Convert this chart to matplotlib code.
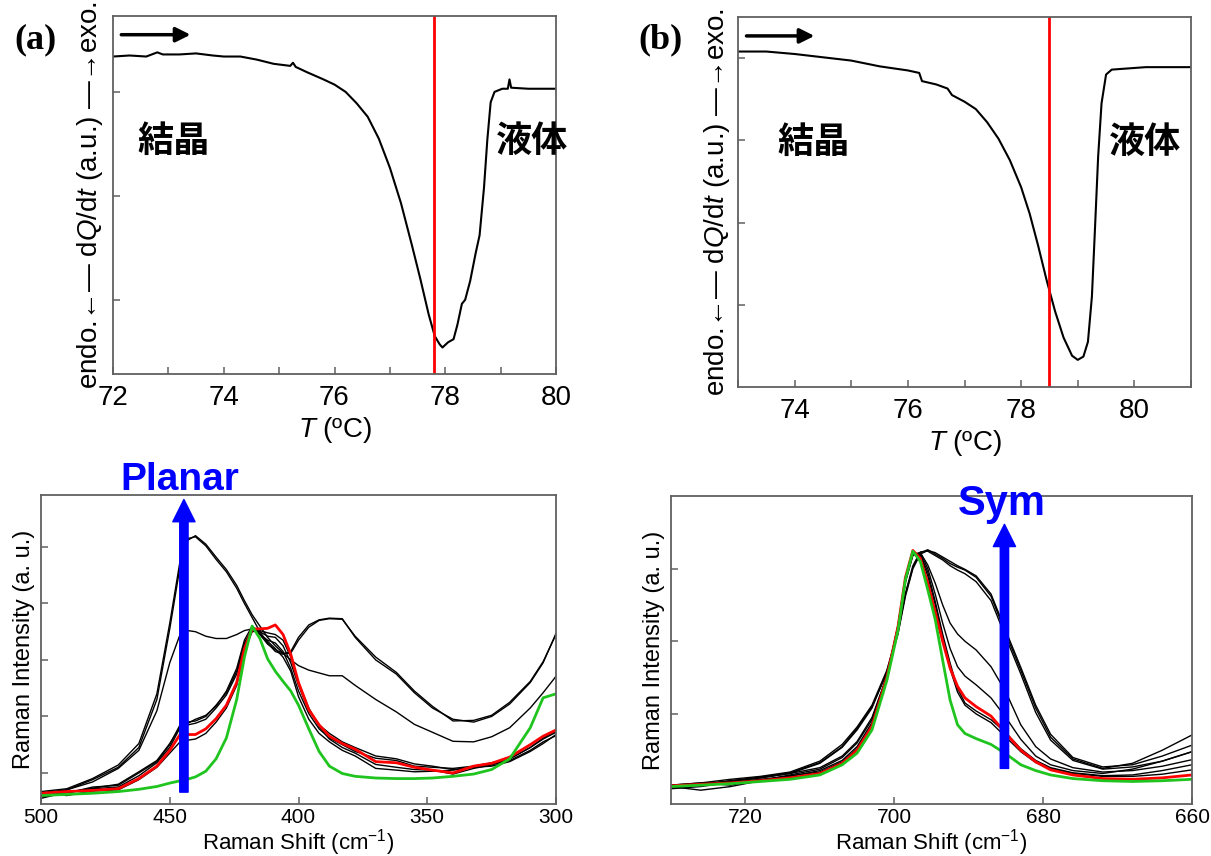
import matplotlib
matplotlib.use("Agg")
import matplotlib.pyplot as plt
from matplotlib.ticker import MultipleLocator, FixedLocator, NullFormatter

plt.rcParams['font.family'] = ['Liberation Sans', 'DejaVu Sans']
plt.rcParams['mathtext.fontset'] = 'custom'
plt.rcParams['mathtext.rm'] = 'Liberation Sans'
plt.rcParams['mathtext.it'] = 'Liberation Sans:italic'

# ---- DSC (a) ----
dsc_a_T = [72.0, 72.3, 72.6, 72.8, 72.9, 73.2, 73.5, 73.8, 74.0, 74.3, 74.6, 74.9, 75.2,
           75.25, 75.3, 75.5, 75.8, 76.0, 76.2, 76.4, 76.6, 76.8, 77.0, 77.2, 77.4, 77.55,
           77.7, 77.81, 77.9, 77.95, 78.05, 78.15, 78.22, 78.3, 78.36, 78.45, 78.55, 78.62,
           78.7, 78.76, 78.82, 78.89, 79.03, 79.13, 79.16, 79.19, 79.5, 80.0]
dsc_a_Q = [3.34, 3.35, 3.34, 3.38, 3.36, 3.36, 3.37, 3.35, 3.34, 3.34, 3.31, 3.27, 3.25,
           3.28, 3.24, 3.19, 3.12, 3.07, 3.00, 2.89, 2.76, 2.55, 2.27, 1.93, 1.52, 1.20,
           0.86, 0.65, 0.57, 0.54, 0.59, 0.62, 0.76, 0.96, 1.00, 1.18, 1.45, 1.62,
           2.08, 2.54, 2.90, 3.00, 3.03, 3.03, 3.12, 3.04, 3.03, 3.03]
melt_a = 77.8

# ---- DSC (b) ----
dsc_b_T = [73.0, 73.5, 74.0, 74.5, 75.0, 75.5, 76.0, 76.2, 76.25, 76.5, 76.7, 76.78, 77.0,
           77.2, 77.4, 77.6, 77.8, 78.0, 78.15, 78.3, 78.45, 78.6, 78.75, 78.9, 79.0, 79.1,
           79.18, 79.25, 79.3, 79.36, 79.42, 79.5, 79.6, 80.2, 81.0]
dsc_b_Q = [4.08, 4.08, 4.05, 4.01, 3.97, 3.90, 3.85, 3.82, 3.72, 3.68, 3.63, 3.55, 3.47,
           3.38, 3.22, 3.02, 2.76, 2.43, 2.11, 1.72, 1.30, 0.92, 0.60, 0.38, 0.33, 0.37,
           0.55, 1.10, 1.86, 2.80, 3.45, 3.80, 3.86, 3.89, 3.89]
melt_b = 78.5

# ---- Raman (c), 500-300 cm-1 ----
xc = [500, 490, 480, 470, 462, 455, 450, 446, 443, 440, 436, 432, 428, 424, 421, 418, 415,
      412, 409, 406, 403, 400, 396, 392, 388, 383, 378, 370, 362, 355, 348, 340, 332, 325,
      318, 310, 305, 300]
c_green = [-0.40, -0.38, -0.36, -0.33, -0.29, -0.24, -0.18, -0.14, -0.11, -0.07, 0.03, 0.25,
           0.62, 1.30, 2.05, 2.60, 2.38, 2.02, 1.80, 1.62, 1.45, 1.20, 0.78, 0.38, 0.12, -0.01,
           -0.06, -0.09, -0.10, -0.10, -0.09, -0.06, -0.02, 0.06, 0.25, 0.80, 1.33, 1.40]
c_red = [-0.36, -0.33, -0.31, -0.28, -0.10, 0.12, 0.40, 0.68, 0.68, 0.68, 0.78, 0.96, 1.20,
         1.60, 2.20, 2.55, 2.55, 2.56, 2.62, 2.45, 2.10, 1.60, 1.12, 0.85, 0.65, 0.52, 0.42,
         0.20, 0.18, 0.10, 0.05, 0.00, 0.12, 0.17, 0.28, 0.50, 0.65, 0.76]
c_black = [
    [-0.42, -0.35, -0.28, -0.25, -0.05, 0.18, 0.45, 0.80, 0.85, 0.88, 0.95, 1.15, 1.38, 1.75,
     2.25, 2.57, 2.45, 2.35, 2.30, 2.15, 1.85, 1.45, 1.05, 0.78, 0.62, 0.50, 0.38, 0.26, 0.22,
     0.12, 0.10, 0.08, 0.12, 0.18, 0.25, 0.45, 0.60, 0.72],
    [-0.38, -0.36, -0.25, -0.22, 0.00, 0.20, 0.50, 0.85, 0.90, 0.92, 1.00, 1.20, 1.42, 1.80,
     2.30, 2.55, 2.50, 2.42, 2.40, 2.25, 1.95, 1.55, 1.10, 0.85, 0.70, 0.55, 0.45, 0.30, 0.25,
     0.16, 0.12, 0.06, 0.10, 0.15, 0.22, 0.40, 0.55, 0.66],
    [-0.35, -0.40, -0.32, -0.30, -0.12, 0.10, 0.35, 0.55, 0.58, 0.60, 0.70, 0.90, 1.15, 1.55,
     2.15, 2.50, 2.52, 2.48, 2.45, 2.35, 2.05, 1.60, 1.15, 0.82, 0.60, 0.45, 0.35, 0.15, 0.10,
     0.06, 0.05, -0.02, 0.08, 0.14, 0.25, 0.45, 0.62, 0.74],
    [-0.45, -0.34, -0.27, -0.20, 0.02, 0.22, 0.52, 0.82, 0.88, 0.95, 1.02, 1.18, 1.45, 1.85,
     2.35, 2.60, 2.47, 2.33, 2.20, 2.05, 1.80, 1.35, 0.95, 0.70, 0.55, 0.40, 0.30, 0.08, 0.05,
     0.02, 0.03, 0.05, 0.10, 0.12, 0.20, 0.38, 0.52, 0.68],
    [-0.35, -0.30, -0.12, 0.10, 0.45, 1.30, 2.55, 3.65, 4.12, 4.20, 4.05, 3.82, 3.60, 3.32,
     3.05, 2.80, 2.60, 2.40, 2.25, 2.12, 2.00, 1.90, 1.82, 1.77, 1.72, 1.72, 1.55, 1.30, 1.08,
     0.86, 0.72, 0.56, 0.55, 0.64, 0.80, 1.15, 1.42, 1.71],
    [-0.33, -0.28, -0.10, 0.14, 0.52, 1.40, 2.65, 3.75, 4.15, 4.18, 4.02, 3.78, 3.56, 3.27,
     3.00, 2.75, 2.50, 2.30, 2.15, 2.10, 2.15, 2.40, 2.62, 2.71, 2.74, 2.73, 2.40, 2.00, 1.75,
     1.42, 1.15, 0.95, 0.90, 1.00, 1.22, 1.60, 1.95, 2.47],
    [-0.38, -0.30, -0.16, 0.08, 0.40, 1.10, 1.95, 2.45, 2.52, 2.50, 2.42, 2.38, 2.38, 2.45,
     2.52, 2.55, 2.45, 2.28, 2.18, 2.12, 2.12, 2.35, 2.58, 2.70, 2.73, 2.72, 2.42, 2.05, 1.78,
     1.45, 1.18, 0.92, 0.93, 1.02, 1.25, 1.62, 1.97, 2.45],
]

# ---- Raman (d), 730-660 cm-1 ----
xd = [730, 726, 722, 718, 714, 710, 707, 705, 703, 701, 699.5, 698.5, 697.5, 696.5, 695.5,
      694.5, 693.5, 692.5, 691.5, 690.5, 689, 687, 685, 683, 681, 679, 676, 672, 668, 664, 660]
d_green = [0.00, 0.02, 0.04, 0.07, 0.10, 0.16, 0.30, 0.46, 0.78, 1.46, 2.15, 2.85, 3.24, 3.10,
           2.71, 2.30, 1.74, 1.19, 0.85, 0.73, 0.66, 0.58, 0.45, 0.30, 0.22, 0.16, 0.11, 0.08,
           0.07, 0.08, 0.10]
d_red = [0.01, 0.03, 0.05, 0.08, 0.12, 0.18, 0.32, 0.50, 0.83, 1.50, 2.20, 2.88, 3.25, 3.14,
         2.80, 2.40, 2.00, 1.63, 1.38, 1.22, 1.10, 0.97, 0.73, 0.50, 0.34, 0.23, 0.16, 0.11,
         0.10, 0.12, 0.16]
d_black = [
    [-0.03, 0.00, 0.06, 0.10, 0.14, 0.22, 0.36, 0.55, 0.88, 1.52, 2.22, 2.86, 3.22, 3.18, 2.90,
     2.50, 2.05, 1.62, 1.30, 1.12, 1.00, 0.88, 0.68, 0.48, 0.33, 0.25, 0.18, 0.14, 0.14, 0.17, 0.23],
    [0.02, 0.05, 0.02, 0.09, 0.15, 0.20, 0.34, 0.52, 0.85, 1.48, 2.16, 2.82, 3.20, 3.20, 2.95,
     2.55, 2.10, 1.70, 1.35, 1.15, 1.04, 0.92, 0.74, 0.52, 0.36, 0.26, 0.19, 0.15, 0.16, 0.22, 0.30],
    [0.00, -0.05, 0.00, 0.08, 0.16, 0.24, 0.40, 0.60, 0.92, 1.52, 2.22, 2.85, 3.20, 3.22, 3.00,
     2.65, 2.25, 1.90, 1.65, 1.52, 1.40, 1.22, 0.95, 0.65, 0.42, 0.30, 0.22, 0.18, 0.24, 0.35, 0.48],
    [0.00, 0.03, 0.08, 0.12, 0.18, 0.26, 0.42, 0.62, 0.95, 1.52, 2.20, 2.82, 3.18, 3.22, 3.05,
     2.80, 2.50, 2.25, 2.10, 2.00, 1.88, 1.65, 1.30, 0.85, 0.55, 0.38, 0.26, 0.20, 0.22, 0.28, 0.37],
    [0.02, 0.05, 0.10, 0.14, 0.20, 0.35, 0.58, 0.82, 1.12, 1.60, 2.15, 2.65, 3.02, 3.22, 3.26,
     3.20, 3.14, 3.07, 3.02, 2.98, 2.88, 2.62, 2.10, 1.60, 1.08, 0.68, 0.38, 0.25, 0.32, 0.50, 0.71],
    [-0.02, 0.02, 0.08, 0.13, 0.19, 0.33, 0.55, 0.80, 1.10, 1.56, 2.10, 2.62, 3.00, 3.20, 3.25,
     3.22, 3.16, 3.10, 3.04, 2.99, 2.90, 2.65, 2.14, 1.64, 1.12, 0.72, 0.40, 0.27, 0.30, 0.42, 0.57],
    [0.00, 0.04, 0.07, 0.12, 0.18, 0.32, 0.54, 0.78, 1.08, 1.58, 2.12, 2.66, 3.04, 3.23, 3.24,
     3.18, 3.12, 3.04, 2.98, 2.93, 2.82, 2.56, 2.05, 1.55, 1.02, 0.64, 0.36, 0.24, 0.27, 0.35, 0.48],
]

SPINE = '#606060'
GREEN = '#1fc41f'
BLUE = '#0000ff'


def style_axes(ax, size):
    for s in ax.spines.values():
        s.set_color(SPINE)
        s.set_linewidth(1.3)
    ax.tick_params(which='both', direction='in', length=5, width=1.1, color=SPINE,
                   labelsize=size, top=False, right=False)
    ax.yaxis.set_major_formatter(NullFormatter())


fig = plt.figure(figsize=(12.11, 8.56), dpi=100)
W, H = 1211, 856


def add_ax(l, t, r, b):
    return fig.add_axes([l / W, 1 - b / H, (r - l) / W, (b - t) / H])


ylab_dsc = 'endo.\u2190\u2014 d$Q$/d$t$ (a.u.) \u2014\u2192exo.'

# (a) DSC
ax = add_ax(113, 16, 556, 374)
ax.plot(dsc_a_T, dsc_a_Q, color='k', lw=1.5)
ax.axvline(melt_a, color='#ff0000', lw=2)
ax.set_xlim(72, 80)
ax.set_ylim(0.285, 3.73)
ax.xaxis.set_major_locator(MultipleLocator(2))
ax.xaxis.set_minor_locator(MultipleLocator(1))
ax.yaxis.set_major_locator(FixedLocator([1, 2, 3]))
style_axes(ax, 20)
ax.tick_params(axis='x', pad=8)
ax.set_xlabel('$T$ (ºC)', fontsize=20, labelpad=3)
ax.set_ylabel(ylab_dsc, fontsize=20, labelpad=2)
ax.annotate('', xy=(73.4, 3.55), xytext=(72.15, 3.55),
            arrowprops=dict(arrowstyle='-|>', color='k', lw=2.5, mutation_scale=22,
                            shrinkA=0, shrinkB=0))
ax.text(73.09, 2.52, '結晶', fontsize=26, fontweight='bold', ha='center', va='center',
        family=['Noto Sans CJK JP'])
ax.text(79.56, 2.52, '液体', fontsize=26, fontweight='bold', ha='center', va='center',
        family=['Noto Sans CJK JP'])

# (b) DSC
ax = add_ax(738, 17, 1191, 387)
ax.plot(dsc_b_T, dsc_b_Q, color='k', lw=1.5)
ax.axvline(melt_b, color='#ff0000', lw=2)
ax.set_xlim(73, 81)
ax.set_ylim(0, 4.5)
ax.xaxis.set_major_locator(MultipleLocator(2))
ax.xaxis.set_minor_locator(MultipleLocator(1))
ax.yaxis.set_major_locator(FixedLocator([1, 2, 3, 4]))
style_axes(ax, 20)
ax.tick_params(axis='x', pad=8)
ax.set_xlabel('$T$ (ºC)', fontsize=20, labelpad=3)
ax.set_ylabel(ylab_dsc, fontsize=20, labelpad=1)
ax.annotate('', xy=(74.35, 4.27), xytext=(73.15, 4.27),
            arrowprops=dict(arrowstyle='-|>', color='k', lw=2.5, mutation_scale=22,
                            shrinkA=0, shrinkB=0))
ax.text(74.33, 2.98, '結晶', fontsize=26, fontweight='bold', ha='center', va='center',
        family=['Noto Sans CJK JP'])
ax.text(80.18, 2.98, '液体', fontsize=26, fontweight='bold', ha='center', va='center',
        family=['Noto Sans CJK JP'])

# (c) Raman low-frequency
ax = add_ax(41, 495, 556, 804)
for yy in c_black:
    ax.plot(xc, yy, color='k', lw=1.0)
ax.plot(xc, c_red, color='#ff0000', lw=2)
ax.plot(xc, c_green, color=GREEN, lw=2)
ax.set_xlim(500, 300)
ax.set_ylim(-0.55, 4.92)
ax.set_xticks([500, 450, 400, 350, 300])
ax.yaxis.set_major_locator(FixedLocator([0, 1, 2, 3, 4]))
style_axes(ax, 15)
ax.tick_params(axis='x', pad=3)
ax.set_xlabel('Raman Shift (cm$^{-1}$)', fontsize=16, labelpad=0)
ax.set_ylabel('Raman Intensity (a. u.)', fontsize=17, labelpad=1)
ax.annotate('', xy=(444.5, 4.84), xytext=(444.5, -0.34),
            arrowprops=dict(arrowstyle='simple,head_width=1.6,head_length=1.6,tail_width=0.6',
                            color=BLUE, mutation_scale=10, shrinkA=0, shrinkB=0))
ax.text(446, 5.0, 'Planar', color=BLUE, fontsize=28, fontweight='bold',
        ha='center', va='baseline', clip_on=False)

# (d) Raman C-S region
ax = add_ax(671, 496, 1192, 804)
for yy in d_black:
    ax.plot(xd, yy, color='k', lw=1.0)
ax.plot(xd, d_red, color='#ff0000', lw=2)
ax.plot(xd, d_green, color=GREEN, lw=2)
ax.set_xlim(730, 660)
ax.set_ylim(-0.24, 4.0)
ax.set_xticks([720, 700, 680, 660])
ax.yaxis.set_major_locator(FixedLocator([1, 2, 3]))
style_axes(ax, 15)
ax.tick_params(axis='x', pad=3)
ax.set_xlabel('Raman Shift (cm$^{-1}$)', fontsize=16, labelpad=0)
ax.set_ylabel('Raman Intensity (a. u.)', fontsize=17, labelpad=1)
ax.annotate('', xy=(685.2, 3.61), xytext=(685.2, 0.25),
            arrowprops=dict(arrowstyle='simple,head_width=1.6,head_length=1.6,tail_width=0.6',
                            color=BLUE, mutation_scale=10, shrinkA=0, shrinkB=0))
ax.text(685.5, 3.74, 'Sym', color=BLUE, fontsize=30, fontweight='bold',
        ha='center', va='baseline')

fig.text(35 / W, 1 - 40 / H, '(a)', fontsize=26, fontweight='bold', family='Liberation Serif',
         ha='center', va='center')
fig.text(660 / W, 1 - 40 / H, '(b)', fontsize=26, fontweight='bold', family='Liberation Serif',
         ha='center', va='center')

fig.savefig('out.png', dpi=100)
